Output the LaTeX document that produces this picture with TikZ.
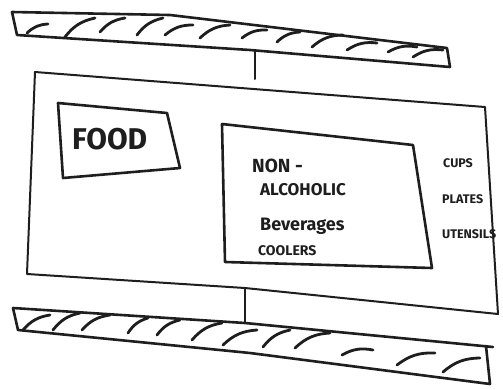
\documentclass[tikz,border=0pt]{standalone}
\usepackage{fontspec}
\setmainfont{Fira Sans}
\usetikzlibrary{positioning}
\definecolor{ink}{RGB}{30, 30, 30}

\begin{document}
\begin{tikzpicture}[
    x=1pt, y=-1pt,
    outline/.style  = {draw=ink, line width=2.6pt, line join=round, line cap=round},
    thinline/.style = {outline, line width=2pt},
    hatch/.style    = {draw=ink, line width=2.8pt, line cap=round},
    sketchtext/.style = {anchor=west, inner sep=0pt, text=ink},
  ]
  \useasboundingbox (0,0) rectangle (503,389);

  % upper rail
  \draw[outline] (12,12) -- (170,15) -- (447,48) -- (450,67) -- (250,50) -- (17,35) -- cycle;
  \foreach \xa/\ya/\xb/\yb in {27/33/48/24, 65/37/95/18, 100/32/125/18, 137/35/163/18,
      165/35/193/25, 200/38/230/25, 242/38/267/30, 277/42/300/32, 312/47/343/35,
      347/50/377/43, 388/52/417/47, 413/57/443/50}
    \draw[hatch] (\xa,\ya) to[bend left=20] (\xb,\yb);

  % main panel
  \draw[thinline] (35,72) -- (485,107) -- (498,314) -- (245,288) -- (27,274) -- cycle;

  % lower rail
  \draw[outline] (493,347) -- (245,323) -- (13,308) -- (18,330) -- (250,353) -- (490,384) -- (486,346);
  \foreach \xa/\ya/\xb/\yb in {23/330/50/315, 53/330/80/313, 82/330/110/315, 128/333/148/318,
      157/335/180/320, 192/340/222/323, 223/345/257/330, 263/347/290/330, 295/348/330/333,
      342/355/373/350, 397/365/435/353, 443/372/480/358}
    \draw[hatch] (\xa,\ya) to[bend left=20] (\xb,\yb);

  % hangers
  \coordinate (upper-rail) at (255,50);
  \coordinate (panel-top)  at (255,79);
  \coordinate (panel-base) at (245,288);
  \coordinate (lower-rail) at (245,323);
  \draw[thinline] (upper-rail) -- (panel-top);
  \draw[thinline] (panel-base) -- (lower-rail);

  % signs
  \draw[outline] (58,103) -- (167,113) -- (180,168) -- (63,178) -- cycle;
  \draw[outline] (222,124) -- (413,145) -- (432,268) -- (225,262) -- cycle;

  \node[sketchtext, font=\bfseries\fontsize{30}{30}\selectfont] (food) at (72,139) {FOOD};
  \node[sketchtext, font=\bfseries\fontsize{19}{19}\selectfont] (non)  at (252,166) {NON -};
  \node[sketchtext, font=\bfseries\fontsize{17}{17}\selectfont] (alco) at (260,190) {ALCOHOLIC};
  \node[sketchtext, font=\bfseries\fontsize{18}{18}\selectfont] (bev)  at (260,226) {Beverages};
  \node[sketchtext, font=\bfseries\fontsize{14}{14}\selectfont] (cool) at (258,251) {COOLERS};

  \node[sketchtext, font=\bfseries\fontsize{12.5}{12.5}\selectfont] (cups)   at (443,163) {CUPS};
  \node[sketchtext, font=\bfseries\fontsize{12.5}{12.5}\selectfont] (plates) at (442,199) {PLATES};
  \node[sketchtext, font=\bfseries\fontsize{12.5}{12.5}\selectfont] (utens)  at (442,234) {UTENSILS};
\end{tikzpicture}
\end{document}
